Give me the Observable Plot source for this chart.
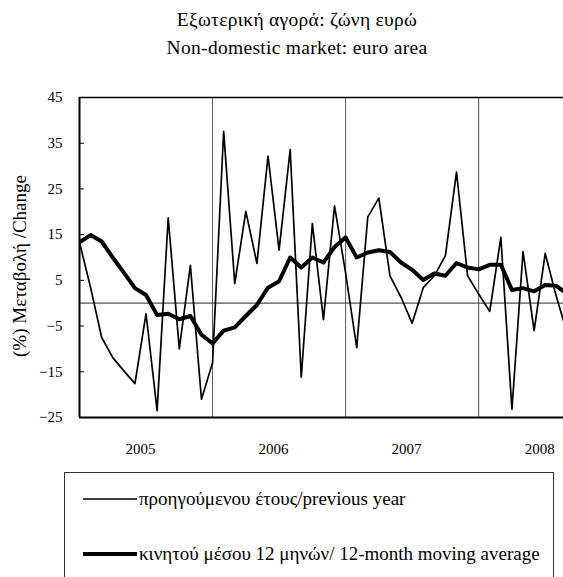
<!DOCTYPE html>
<html>
<head>
<meta charset="utf-8">
<script src="https://cdn.jsdelivr.net/npm/d3@7"></script>
<script src="https://cdn.jsdelivr.net/npm/@observablehq/plot@0.6"></script>
<style>
  html, body { margin: 0; padding: 0; background: #fff; }
  body { width: 563px; height: 577px; position: relative; overflow: hidden; font-family: "Liberation Serif", "DejaVu Serif", serif; }
  #title { position: absolute; left: 0; top: 0; width: 563px; height: 70px; }
  #title div { position: absolute; left: 0; width: 594px; text-align: center; font-size: 19.5px; color: #000; letter-spacing: 0.3px; }
  #chart { position: absolute; left: 0; top: 70px; }
  #ylabel { position: absolute; left: 20px; top: 266px; transform: translate(-50%, -50%) rotate(-90deg); white-space: nowrap; font-size: 19px; }
  #legend { position: absolute; left: 64px; top: 472px; width: 490px; height: 130px; border: 1px solid #333; box-sizing: border-box; }
  .item { position: absolute; left: 18px; display: flex; align-items: center; font-size: 19px; white-space: nowrap; }
  .item svg { margin-right: 2px; }
</style>
</head>
<body>
<div id="title"><div style="top:9px">Εξωτερική αγορά: ζώνη ευρώ</div><div style="top:37px">Non-domestic market: euro area</div></div>
<div id="chart"></div>
<div id="ylabel">(%) Μεταβολή /Change</div>
<div id="legend">
  <div class="item" style="top:15px"><svg width="54" height="6"><line x1="0" x2="54" y1="3" y2="3" stroke="#000" stroke-width="1.5"/></svg>προηγούμενου έτους/previous year</div>
  <div class="item" style="top:70px"><svg width="54" height="6"><line x1="0" x2="54" y1="3" y2="3" stroke="#000" stroke-width="4"/></svg>κινητού μέσου 12 μηνών/ 12-month moving average</div>
</div>
<script>
// Monthly data, Jan 2005 onwards (index 0 = Jan 2005)
const years = ["2005", "2006", "2007", "2008"];
const yoy = [13.3, 3.4, -7.5, -11.9, -14.8, -17.6, -2.3, -23.5, 18.7, -10.0, 8.3, -21.0,
             -13.0, 37.6, 4.3, 20.1, 8.7, 32.2, 11.6, 33.6, -16.2, 17.4, -3.6, 21.3,
             6.6, -9.7, 18.9, 23.0, 6.0, 1.3, -4.4, 3.4, 6.0, 10.4, 28.7, 6.0,
             2.0, -1.8, 14.4, -23.2, 11.3, -6.0, 10.9, 1.5, -6.7];
const ma12 = [13.3, 14.9, 13.5, 10.0, 6.7, 3.3, 1.8, -2.6, -2.3, -3.5, -2.8, -6.9,
              -8.8, -6.0, -5.3, -2.8, -0.4, 3.4, 4.8, 10.0, 7.8, 10.0, 8.9, 12.3,
              14.4, 10.0, 11.1, 11.6, 11.2, 8.9, 7.3, 5.1, 6.5, 6.0, 8.8, 7.8,
              7.4, 8.4, 8.4, 2.9, 3.3, 2.6, 4.0, 3.8, 2.0];
const yTicks = [-25, -15, -5, 5, 15, 25, 35, 45];

const yoyData = yoy.map((v, i) => ({i, v}));
const maData = ma12.map((v, i) => ({i, v}));
const yearCenters = years.map((y, k) => k * 12 + 5.5);
const yearBounds = [12, 24, 36];

const chart = Plot.plot({
  width: 563,
  height: 390,
  marginTop: 27,
  marginBottom: 43,
  marginLeft: 79,
  marginRight: 0,
  style: {fontFamily: "Liberation Serif, serif", fontSize: "15px", color: "#000", background: "#fff"},
  x: {type: "linear", domain: [0, 43.65], axis: null},
  y: {domain: [-25, 45], axis: null},
  marks: [
    Plot.ruleX(yearBounds, {stroke: "#555", strokeWidth: 1}),
    Plot.ruleY([0], {stroke: "#555", strokeWidth: 1.3}),
    Plot.ruleY(yTicks, {x1: 0, x2: 0.45, stroke: "#000", strokeWidth: 1}),
    Plot.line(yoyData, {x: "i", y: "v", stroke: "#000", strokeWidth: 1.7, clip: true}),
    Plot.line(maData, {x: "i", y: "v", stroke: "#000", strokeWidth: 4, strokeLinejoin: "round", clip: true}),
    Plot.ruleY([45], {stroke: "#000", strokeWidth: 1.5}),
    Plot.ruleY([-25], {stroke: "#000", strokeWidth: 2}),
    Plot.ruleX([0], {stroke: "#000", strokeWidth: 2}),
    Plot.axisY(yTicks, {tickSize: 0, tickPadding: 17, fontSize: 15, label: null}),
    Plot.axisX(yearCenters, {tickSize: 0, tickPadding: 26, fontSize: 15, label: null, tickFormat: (d, k) => years[k]})
  ]
});
document.getElementById("chart").appendChild(chart);
</script>
</body>
</html>
